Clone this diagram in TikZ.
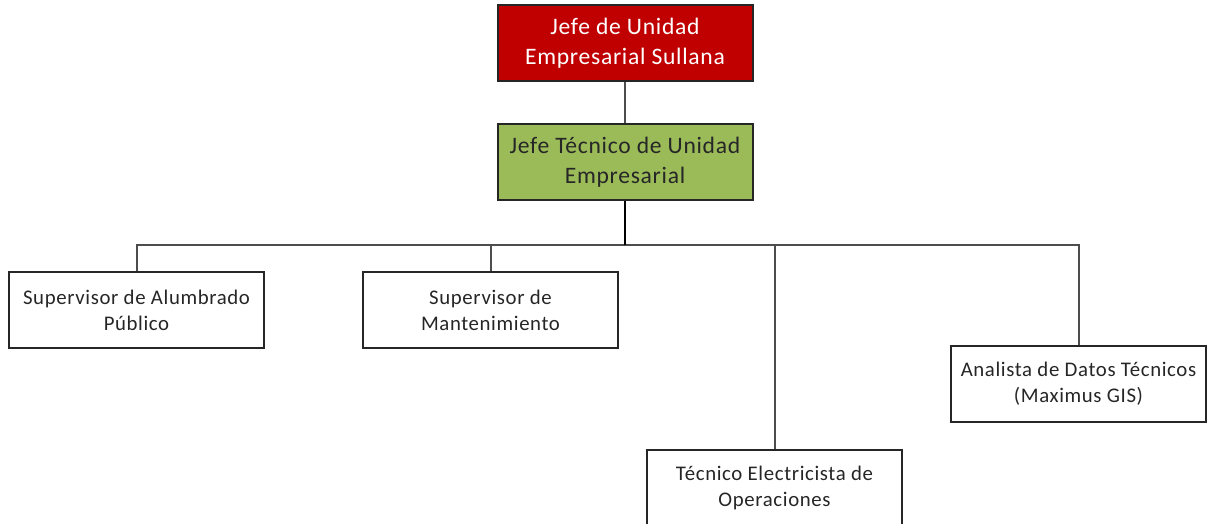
\documentclass[tikz,border=0pt]{standalone}
\usepackage{fontspec}
\setmainfont{Carlito}[LetterSpace=3]
\usepackage{tikz}

\definecolor{jefered}{HTML}{C00000}
\definecolor{jefegreen}{HTML}{9BBB59}
\definecolor{linegray}{HTML}{4D4D4D}

\begin{document}
\begin{tikzpicture}[x=1pt, y=1pt,
  puesto/.style={draw=black!85, line width=2pt, minimum width=255pt, minimum height=76pt,
    inner sep=0pt, align=center, font=\fontsize{20.8}{26}\selectfont, text=black!85},
  jefatura/.style={puesto, font=\fontsize{23.6}{30}\selectfont},
  enlace/.style={draw=linegray, line width=2pt}]
  \useasboundingbox (0, 0) rectangle (1208, 524);
  \node[jefatura, fill=jefered, text=white] (jefe) at (625, 481) {Jefe de Unidad\\Empresarial Sullana};
  \node[jefatura, fill=jefegreen] (tecnico) at (625, 362) {Jefe Técnico de Unidad\\Empresarial};
  \node[puesto] (alumbrado) at (136.5, 213.5) {Supervisor de Alumbrado\\Público};
  \node[puesto] (mantenimiento) at (490.5, 213.5) {Supervisor de\\Mantenimiento};
  \node[puesto] (operaciones) at (774.5, 36) {Técnico Electricista de\\Operaciones};
  \node[puesto] (analista) at (1078.5, 140) {Analista de Datos Técnicos\\(Maximus GIS)};
  \coordinate (bus) at (625, 279);
  \draw[enlace] (jefe) -- (tecnico);
  \draw[enlace] (alumbrado.north) |- (bus) -| (analista.north);
  \draw[enlace] (mantenimiento.north) -- (mantenimiento.north |- bus);
  \draw[enlace] (operaciones.north) -- (operaciones.north |- bus);
  \draw[line width=2.8pt] (tecnico.south) -- (bus);
\end{tikzpicture}
\end{document}
